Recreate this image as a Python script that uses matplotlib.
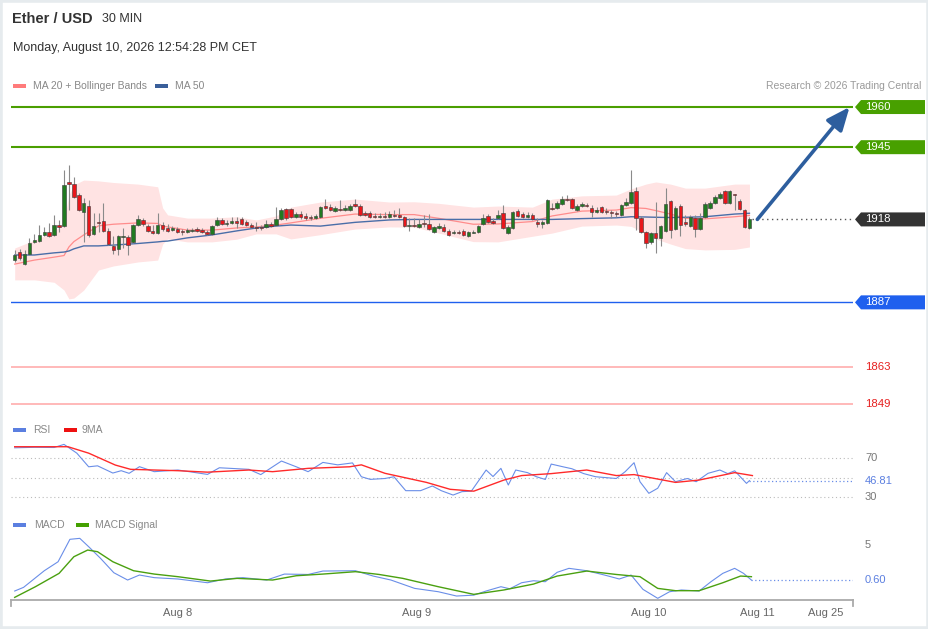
import matplotlib
matplotlib.use("Agg")
import matplotlib.pyplot as plt
import matplotlib.transforms as mtransforms
from matplotlib.patches import Polygon, Rectangle
import numpy as np

plt.rcParams['font.family'] = ['Liberation Sans', 'DejaVu Sans']

# ---- candles (30 min bars) ----
opens = [1902.8, 1905.8, 1901.3, 1905.1, 1909.6, 1909.9, 1912.2, 1913.3, 1912.2, 1915.9,
         1915.5, 1932.0, 1931.2, 1927.1, 1920.8, 1923.0, 1912.6, 1917.0, 1917.4, 1913.7,
         1908.1, 1907.0, 1911.4, 1911.4, 1909.6, 1915.9, 1917.8, 1915.5, 1913.7, 1912.9,
         1915.9, 1914.8, 1914.0, 1914.4, 1913.7, 1913.3, 1913.7, 1914.4, 1914.0, 1913.3,
         1912.6, 1915.9, 1917.8, 1916.3, 1916.7, 1917.4, 1918.2, 1917.0, 1915.9, 1915.2,
         1915.2, 1915.2, 1916.3, 1915.9, 1918.2, 1921.9, 1921.9, 1918.9, 1920.0, 1919.3,
         1918.9, 1918.5, 1918.9, 1923.0, 1922.6, 1921.1, 1921.9, 1921.5, 1921.5, 1923.8,
         1923.0, 1920.4, 1920.4, 1919.3, 1918.9, 1919.3, 1918.9, 1919.7, 1919.7, 1918.9,
         1915.5, 1915.9, 1915.2, 1916.7, 1916.3, 1913.3, 1914.8, 1915.2, 1913.7, 1912.9,
         1913.3, 1913.7, 1911.8, 1912.9, 1913.3, 1916.3, 1919.3, 1917.4, 1918.5, 1920.4,
         1912.9, 1914.8, 1921.1, 1920.0, 1918.9, 1919.7, 1917.0, 1916.3, 1916.7, 1922.3,
         1922.3, 1923.8, 1925.6, 1925.6, 1921.5, 1923.0, 1923.4, 1922.3, 1920.8, 1922.6,
         1921.1, 1920.8, 1920.4, 1919.7, 1923.4, 1924.1, 1928.6, 1918.5, 1913.3, 1909.6,
         1912.9, 1911.1, 1913.7, 1924.9, 1914.4, 1923.0, 1917.0, 1915.5, 1918.5, 1914.4,
         1918.9, 1922.3, 1924.1, 1926.0, 1928.6, 1924.1, 1927.5, 1924.9, 1921.5, 1914.8]
closes = [1904.7, 1903.6, 1905.1, 1909.2, 1910.3, 1912.2, 1913.3, 1911.8, 1915.9, 1915.2,
          1930.9, 1931.2, 1926.4, 1921.5, 1924.1, 1912.2, 1915.5, 1916.7, 1913.7, 1908.8,
          1906.6, 1911.8, 1911.8, 1908.4, 1915.9, 1918.2, 1916.3, 1913.7, 1912.9, 1915.9,
          1914.4, 1913.7, 1914.8, 1913.3, 1913.3, 1914.0, 1914.0, 1913.7, 1913.3, 1912.6,
          1915.5, 1917.8, 1916.3, 1916.7, 1917.4, 1916.7, 1916.3, 1915.9, 1915.2, 1914.8,
          1914.8, 1916.3, 1915.5, 1918.2, 1921.5, 1918.5, 1918.9, 1920.0, 1918.9, 1918.5,
          1918.5, 1919.3, 1922.6, 1922.3, 1921.5, 1922.3, 1921.5, 1922.3, 1923.0, 1923.0,
          1919.7, 1919.7, 1918.9, 1918.9, 1919.3, 1918.9, 1920.0, 1919.3, 1918.9, 1915.5,
          1915.9, 1915.5, 1916.3, 1916.3, 1914.4, 1915.2, 1915.5, 1913.7, 1912.2, 1913.3,
          1912.9, 1912.2, 1913.3, 1913.3, 1915.5, 1918.5, 1917.0, 1916.7, 1919.7, 1914.8,
          1915.2, 1920.8, 1919.3, 1918.9, 1919.7, 1918.2, 1916.3, 1917.0, 1925.3, 1921.9,
          1924.1, 1925.6, 1925.3, 1922.3, 1923.0, 1923.8, 1923.0, 1920.8, 1921.5, 1920.8,
          1920.8, 1920.4, 1920.0, 1923.4, 1924.5, 1928.2, 1918.5, 1913.3, 1909.2, 1912.9,
          1911.1, 1915.5, 1923.8, 1914.0, 1922.3, 1915.9, 1916.3, 1918.9, 1914.4, 1918.5,
          1923.8, 1924.1, 1926.4, 1927.5, 1924.1, 1928.6, 1927.1, 1921.9, 1915.2, 1918.2]
highs = [1906.6, 1907.0, 1906.6, 1911.1, 1912.6, 1915.9, 1915.2, 1916.7, 1919.7, 1917.8,
         1936.5, 1938.3, 1933.9, 1927.9, 1926.0, 1925.3, 1920.4, 1920.4, 1924.1, 1914.8,
         1911.8, 1912.2, 1914.8, 1912.2, 1916.3, 1919.7, 1918.5, 1916.3, 1915.9, 1920.4,
         1917.0, 1916.3, 1915.5, 1915.2, 1914.4, 1914.8, 1914.8, 1915.2, 1914.8, 1914.0,
         1915.9, 1918.9, 1918.5, 1917.8, 1918.9, 1918.9, 1918.9, 1917.8, 1916.7, 1917.0,
         1915.9, 1917.8, 1917.0, 1922.6, 1922.3, 1922.3, 1922.3, 1920.8, 1921.1, 1920.4,
         1919.7, 1920.0, 1923.0, 1925.6, 1923.8, 1923.0, 1925.3, 1923.4, 1923.8, 1925.6,
         1923.8, 1921.1, 1921.1, 1920.4, 1920.4, 1920.8, 1921.1, 1921.5, 1922.3, 1919.3,
         1918.5, 1918.5, 1918.2, 1919.7, 1920.0, 1915.5, 1916.7, 1916.3, 1914.4, 1914.0,
         1914.0, 1914.4, 1913.7, 1914.0, 1915.9, 1920.0, 1920.0, 1918.5, 1921.5, 1923.4,
         1915.9, 1921.1, 1921.9, 1920.8, 1920.8, 1920.4, 1918.5, 1917.8, 1925.6, 1924.1,
         1924.9, 1926.8, 1927.1, 1926.0, 1923.8, 1924.5, 1924.1, 1923.4, 1922.6, 1923.0,
         1922.3, 1921.5, 1921.1, 1923.8, 1926.0, 1936.5, 1930.1, 1919.3, 1913.7, 1913.3,
         1924.5, 1915.9, 1929.7, 1925.3, 1923.0, 1923.8, 1919.7, 1919.7, 1919.7, 1920.4,
         1924.5, 1924.9, 1927.1, 1928.2, 1929.0, 1929.0, 1927.5, 1925.6, 1921.9, 1918.9]
lows = [1902.1, 1902.8, 1901.0, 1904.7, 1909.2, 1909.6, 1911.8, 1911.4, 1911.8, 1913.3,
        1915.2, 1921.5, 1926.0, 1921.1, 1909.6, 1911.4, 1912.2, 1913.3, 1913.3, 1908.4,
        1905.1, 1904.7, 1907.3, 1904.7, 1909.2, 1915.5, 1915.5, 1913.3, 1912.6, 1912.6,
        1913.7, 1913.3, 1913.7, 1912.9, 1912.2, 1912.9, 1913.3, 1913.3, 1912.9, 1912.2,
        1912.2, 1915.5, 1915.9, 1915.5, 1916.3, 1914.8, 1915.9, 1915.5, 1914.8, 1913.7,
        1914.0, 1914.8, 1915.2, 1915.5, 1917.8, 1917.8, 1918.5, 1918.5, 1918.2, 1917.8,
        1917.8, 1918.2, 1918.5, 1921.9, 1921.1, 1920.8, 1921.1, 1921.1, 1921.1, 1922.6,
        1919.3, 1919.3, 1918.5, 1918.5, 1918.5, 1918.5, 1918.5, 1918.9, 1918.5, 1915.2,
        1913.7, 1915.2, 1914.8, 1915.2, 1914.0, 1912.9, 1914.4, 1913.3, 1911.8, 1912.6,
        1912.6, 1911.8, 1911.4, 1912.9, 1912.9, 1915.9, 1916.7, 1916.3, 1918.2, 1914.4,
        1912.6, 1914.4, 1918.9, 1918.5, 1918.5, 1917.8, 1915.2, 1914.8, 1916.3, 1921.5,
        1921.9, 1923.4, 1924.9, 1921.9, 1921.1, 1922.6, 1922.6, 1918.9, 1920.4, 1920.4,
        1920.0, 1918.5, 1918.9, 1919.3, 1923.0, 1923.8, 1914.0, 1912.9, 1907.3, 1908.8,
        1905.5, 1908.1, 1913.3, 1911.1, 1914.0, 1911.8, 1915.5, 1915.2, 1911.4, 1914.0,
        1918.5, 1921.9, 1923.8, 1925.6, 1923.8, 1923.8, 1921.5, 1921.5, 1914.8, 1914.4]

# ---- moving averages and Bollinger bands (read at these bars) ----
band_bars = [0, 4, 8, 10, 11, 12, 14, 17, 20, 25, 29, 30, 31, 35, 40, 45, 49, 53, 56, 62,
             69, 76, 81, 86, 93, 98, 105, 109, 115, 122, 125, 128, 130, 133, 136, 140, 146, 149]
ma20 = [1901.3, 1902.8, 1903.9, 1904.5, 1907.7, 1909.7, 1912.2, 1915.6, 1916.2, 1916.7,
        1916.5, 1915.5, 1915.2, 1914.0, 1914.0, 1914.8, 1915.2, 1915.9, 1916.7, 1918.4,
        1920.0, 1919.8, 1919.8, 1918.4, 1916.2, 1916.3, 1917.2, 1919.3, 1921.1, 1921.5,
        1922.4, 1922.1, 1921.3, 1920.0, 1918.4, 1918.2, 1919.0, 1919.5]
ma50 = [1904.7, 1904.7, 1905.5, 1905.8, 1906.2, 1907.0, 1908.1, 1908.1, 1908.4, 1909.0,
        1909.6, 1909.8, 1909.9, 1911.1, 1912.2, 1913.7, 1914.8, 1915.5, 1915.9, 1915.5,
        1916.9, 1917.8, 1918.0, 1918.0, 1918.0, 1918.0, 1918.0, 1918.0, 1918.3, 1918.6,
        1919.0, 1918.9, 1918.8, 1918.7, 1918.8, 1919.0, 1920.0, 1920.3]
bb_upper = [1907.3, 1910.3, 1913.3, 1917.0, 1927.1, 1930.9, 1932.7, 1932.4, 1931.8, 1931.2,
            1930.2, 1922.3, 1919.7, 1918.5, 1918.5, 1919.0, 1917.8, 1919.3, 1922.6, 1924.5,
            1925.6, 1924.5, 1924.6, 1924.0, 1922.6, 1923.0, 1922.6, 1925.6, 1926.8, 1927.1,
            1929.4, 1931.2, 1932.0, 1931.2, 1929.7, 1929.7, 1931.2, 1931.2]
bb_lower = [1895.4, 1895.4, 1894.5, 1891.6, 1888.3, 1888.6, 1891.6, 1899.1, 1900.6, 1902.1,
            1902.8, 1908.8, 1910.7, 1909.6, 1909.6, 1910.6, 1912.6, 1912.6, 1910.7, 1912.3,
            1914.4, 1915.2, 1915.1, 1912.9, 1909.7, 1909.6, 1911.7, 1912.9, 1915.5, 1915.9,
            1915.4, 1912.9, 1910.7, 1908.8, 1907.1, 1906.6, 1906.8, 1907.7]

# ---- RSI ----
rsi_bars = [0, 4, 8, 10, 12.6, 15, 16.8, 19.9, 21.6, 23.2, 25.3, 28.3, 33.1, 39.1, 41.5,
            47.5, 49.9, 54.1, 57.1, 59.5, 62.5, 65.5, 68.5, 70.3, 72.1, 75.1, 76.9, 79.3,
            82.3, 84.7, 86.5, 88.9, 90.7, 92.6, 95.6, 97, 98.6, 100.1, 101.6, 104, 105.8,
            107.6, 108.8, 111.2, 113, 115.4, 117.8, 122, 123.8, 125.6, 126.8, 128.6, 130.4,
            132.2, 134, 136.4, 138.2, 140.6, 143, 144.6, 146, 148.4, 149]
rsi_vals = [80.5, 81, 80.8, 84, 75, 61, 62, 54.6, 57, 54.3, 61.1, 56, 57.7, 53.2, 60,
            58.4, 53, 66.9, 61, 56, 65.5, 63, 65, 50.8, 48.1, 49, 50.8, 36.5,
            36.5, 41.3, 36.5, 32, 35.5, 36, 57.7, 51, 59.4, 42.3, 57.7, 55, 50.8,
            48, 63.8, 61, 59, 54, 50.8, 49, 56, 65.2, 45.7, 33.8, 39,
            55, 45.7, 49, 45.7, 54.3, 57.7, 54, 56.9, 44, 46.81]
rsi_ma_bars = [0, 10.8, 15, 20.4, 23.5, 33.1, 39.1, 47.5, 52.3, 59.5, 67.9, 70.3, 75.1,
               83.5, 88.3, 93.1, 99.2, 102.8, 108.8, 116, 122, 125.6, 134, 138.8, 146, 149.6]
rsi_ma_vals = [81.6, 81.6, 75, 62.8, 58.4, 57, 55.5, 57.7, 56, 59.4, 61, 63, 54.3,
               45, 37.9, 36, 47.4, 52, 54, 57.7, 52, 53, 45, 47.4, 55, 52]

# ---- MACD ----
macd_bars = [0, 1.8, 6, 8.8, 11.2, 13.2, 15, 17.4, 20.1, 22.9, 25.3, 28.3, 33.1, 39.1,
             42.7, 46.3, 51.1, 54.7, 59.5, 62.5, 69.1, 72.7, 76.3, 81.1, 85.9, 89.6, 93.1,
             95.6, 98.6, 100.4, 102.8, 105.2, 107.6, 110, 112.4, 116, 119.6, 122.6, 125,
             127.4, 130.4, 132.8, 135.2, 138.8, 141.2, 143.6, 146, 147.8, 149.4]
macd_vals = [-0.78, -0.32, 1.77, 2.9, 5.72, 5.84, 4.79, 3.33, 1.52, 0.6, 1.23, 0.9, 0.73, 0.26,
             0.73, 0.9, 0.6, 1.35, 1.3, 1.73, 1.77, 1.1, 0.6, -0.45, -0.87, -1.41, -1.3,
             -0.78, -0.24, -0.5, 0.26, 0.51, 0.39, 1.57, 2.07, 1.77, 1.23, 0.73, 1.23,
             -0.57, -1.7, -0.87, -0.65, -0.78, 0.39, 1.44, 2.07, 1.44, 0.6]
signal_bars = [0, 4.2, 9, 12, 14.8, 16.8, 19.9, 24.1, 28.3, 33.1, 39.7, 45.1, 52.3, 57.1,
               62.5, 69.1, 73.9, 78.7, 85.9, 93.1, 99.2, 105.2, 110, 116, 122, 126.8,
               130.4, 134, 138.8, 143.6, 147.2, 149.4]
signal_vals = [-1.58, -0.24, 1.44, 3.53, 4.37, 4.16, 2.9, 1.77, 1.35, 1.02, 0.47, 0.81, 0.6,
               1.14, 1.35, 1.65, 1.3, 0.81, -0.24, -1.2, -0.65, 0.09, 1.1, 1.73, 1.3, 1.02,
               -0.45, -0.74, -0.74, 0.26, 1.1, 1.02]

levels_green = [1960, 1945]
level_blue = 1887
levels_red = [1863, 1849]
last_price = 1918
rsi_last = 46.81
macd_last = 0.60
rsi_levels = [70, 50, 30]

tick_pos = [33, 81.5, 128.5, 150.5, 164.5]
tick_labels = ["Aug 8", "Aug 9", "Aug 10", "Aug 11", "Aug 25"]

# ---- layout ----
W, H = 929, 629
fig = plt.figure(figsize=(W / 100, H / 100), dpi=100)
fig.patch.set_facecolor('white')


def fx(px):
    return px / W


def fy(py):
    return 1 - py / H


left, right = 11, 853
ax = fig.add_axes([fx(left), fy(415), (right - left) / W, 320 / H])
ax_rsi = fig.add_axes([fx(left), fy(505), (right - left) / W, 65 / H])
ax_macd = fig.add_axes([fx(left), fy(600), (right - left) / W, 70 / H])

xlim = (-0.75, 170)
for a in (ax, ax_rsi, ax_macd):
    a.set_xlim(*xlim)
    a.set_facecolor('none')
    for s in a.spines.values():
        s.set_visible(False)
    a.set_yticks([])
    a.set_xticks([])

ax.set_ylim(1844.9, 1964.5)
ax_rsi.set_ylim(21.8, 88.5)
ax_macd.set_ylim(-1.91, 6.89)

# ---- price panel ----
x = np.arange(len(closes))
o = np.array(opens)
c = np.array(closes)
up = c >= o
colors = np.where(up, '#217a21', '#e8161b')
ax.fill_between(band_bars, bb_lower, bb_upper, color='#ffe3e3', lw=0, zorder=1)
ax.plot(band_bars, ma20, color='#ff8c8c', lw=0.9, zorder=2)
ax.plot(band_bars, ma50, color='#4a6ea8', lw=1.0, zorder=2)
ax.vlines(x, lows, highs, color='#8a8a8a', lw=0.8, zorder=3)
body_h = np.maximum(np.abs(c - o), 0.35)
ax.bar(x, body_h, bottom=np.minimum(o, c), width=0.7, color=colors,
       edgecolor='#3a3a3a', linewidth=0.4, zorder=4)

for lv in levels_green:
    ax.axhline(lv, color='#4a9e00', lw=1.5, zorder=2)
ax.axhline(level_blue, color='#1f60ee', lw=1.0, zorder=2)
for lv in levels_red:
    ax.axhline(lv, color='#ffb3b3', lw=1.3, zorder=2)
ax.hlines(last_price, len(closes) - 0.5, xlim[1], color='#555555', lw=1.0,
          linestyles=(0, (1, 2.5)), zorder=2)

ax.annotate('', xy=(xlim[1] - 0.7, levels_green[0]), xytext=(len(closes) + 0.6, last_price),
            arrowprops=dict(arrowstyle='-|>,head_length=0.7,head_width=0.3', color='#2d5e9e',
                            lw=2.6, shrinkA=0, shrinkB=0, mutation_scale=20),
            annotation_clip=False, zorder=5)

# price tags on the right
tr_price = mtransforms.blended_transform_factory(fig.transFigure, ax.transData)
px_per_unit = 320 / (1964.5 - 1844.9)
hh = 7 / px_per_unit


def tag(value, text, face):
    pts = [(fx(855), value), (fx(861), value + hh), (fx(925), value + hh),
           (fx(925), value - hh), (fx(861), value - hh)]
    fig.add_artist(Polygon(pts, closed=True, transform=tr_price, facecolor=face,
                           edgecolor='none', clip_on=False))
    fig.text(fx(865), value, text, transform=tr_price, color='white', size=8.2,
             va='center', ha='left')


for lv in levels_green:
    tag(lv, str(lv), '#48a000')
tag(level_blue, str(level_blue), '#1f60ee')
tag(last_price, str(last_price), '#333333')
for lv in levels_red:
    fig.text(fx(865), lv, str(lv), transform=tr_price, color='#e62020', size=8.2,
             va='center', ha='left')

# ---- RSI panel ----
for lv in rsi_levels:
    ax_rsi.axhline(lv, color='#bbbbbb', lw=0.8, linestyle=(0, (1, 2.5)))
ax_rsi.plot(rsi_bars, rsi_vals, color='#6a8ee8', lw=0.8)
ax_rsi.plot(rsi_ma_bars, rsi_ma_vals, color='#ff2a2a', lw=1.0)
ax_rsi.hlines(rsi_last, rsi_bars[-1], xlim[1], color='#6a8ee8', lw=0.9,
              linestyles=(0, (1, 2)))
tr_rsi = mtransforms.blended_transform_factory(fig.transFigure, ax_rsi.transData)
for lv in (70, 30):
    fig.text(fx(865), lv, str(lv), transform=tr_rsi, color='#777777', size=8,
             va='center', ha='left')
fig.text(fx(865), rsi_last, f"{rsi_last:.2f}", transform=tr_rsi, color='#5b7fe0', size=8,
         va='center', ha='left')

# ---- MACD panel ----
ax_macd.plot(macd_bars, macd_vals, color='#6a8ee8', lw=0.8)
ax_macd.plot(signal_bars, signal_vals, color='#4aa010', lw=1.0)
ax_macd.hlines(macd_last, macd_bars[-1], xlim[1], color='#6a8ee8', lw=0.9,
               linestyles=(0, (1, 2)))
tr_macd = mtransforms.blended_transform_factory(fig.transFigure, ax_macd.transData)
fig.text(fx(865), 5, "5", transform=tr_macd, color='#777777', size=8, va='center', ha='left')
fig.text(fx(865), macd_last, f"{macd_last:.2f}", transform=tr_macd, color='#5b7fe0', size=8,
         va='center', ha='left')

ax_macd.spines['bottom'].set_visible(True)
ax_macd.spines['bottom'].set_color('#aaaaaa')
ax_macd.spines['bottom'].set_linewidth(1.3)
ax_macd.set_xticks(tick_pos)
ax_macd.set_xticklabels(tick_labels)
ax_macd.tick_params(axis='x', length=0, pad=6, labelsize=8, labelcolor='#666666')
for xe in (0, 1):
    ax_macd.plot([xe, xe], [0, -0.09], transform=ax_macd.transAxes, color='#aaaaaa',
                 lw=1.3, clip_on=False)

# ---- header and legends ----
fig.text(fx(12), fy(19), "Ether / USD", size=10.5, weight='bold', color='#333333', va='center')
fig.text(fx(102), fy(19), "30 MIN", size=9, color='#333333', va='center')
fig.text(fx(13), fy(48), "Monday, August 10, 2026 12:54:28 PM CET", size=9, color='#333333',
         va='center')


def legend_item(px, py, color, label, text_px):
    fig.add_artist(Rectangle((fx(px), fy(py + 2)), 13 / W, 4 / H, transform=fig.transFigure,
                             facecolor=color, edgecolor='none'))
    fig.text(fx(text_px), fy(py), label, size=7.5, color='#888888', va='center')


legend_item(13, 86, '#ff7b7b', "MA 20 + Bollinger Bands", 33)
legend_item(155, 86, '#3a5f9a', "MA 50", 175)
fig.text(fx(921), fy(86), "Research \u00a9 2026 Trading Central", size=7.5, color='#9a9a9a',
         va='center', ha='right')
legend_item(13, 430, '#5b7fe0', "RSI", 33)
legend_item(64, 430, '#ee1111', "9MA", 82)
legend_item(13, 525, '#5b7fe0', "MACD", 34)
legend_item(76, 525, '#44a000', "MACD Signal", 95)

# light frame around the picture
fig.add_artist(Rectangle((0, 0), 1, 1, transform=fig.transFigure, facecolor='none',
                         edgecolor='#e6ebee', lw=4, clip_on=False))

fig.savefig("out.png", dpi=100)
